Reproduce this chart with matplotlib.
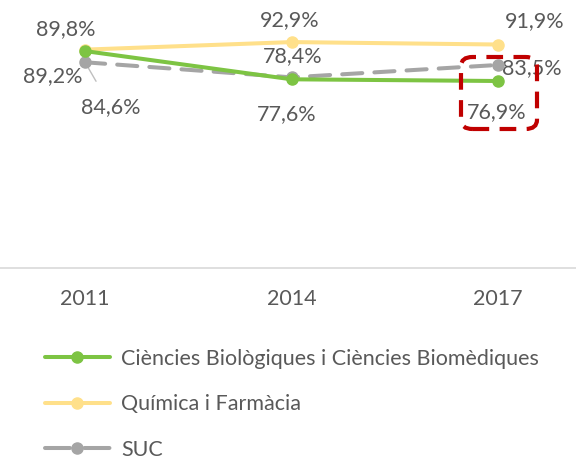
import matplotlib
matplotlib.use("Agg")
import matplotlib.pyplot as plt
from matplotlib.patches import FancyBboxPatch

years = ["2011", "2014", "2017"]
bio = [89.2, 77.6, 76.9]
quim = [89.8, 92.9, 91.9]
suc = [84.6, 78.4, 83.5]
names = ["Ciències Biològiques i Ciències Biomèdiques", "Química i Farmàcia", "SUC"]

plt.rcParams['font.family'] = ['Lato', 'DejaVu Sans']
txt = '#595959'
c_bio = '#7DC443'
c_quim = '#FFE08A'
c_suc = '#A5A5A5'
fs = 15.5

fig = plt.figure(figsize=(5.76, 4.59), dpi=100)
ax = fig.add_axes([0, 0.416, 1, 0.584])
x = list(range(len(years)))
lw = 2.9
ax.plot(x, quim, color=c_quim, lw=lw, marker='o', ms=8, label=names[1], zorder=3, solid_capstyle='round')
ax.plot(x, suc, color=c_suc, lw=lw, marker='o', ms=8, label=names[2], zorder=4, dashes=(5, 3), dash_capstyle='round')
ax.plot(x, bio, color=c_bio, lw=lw, marker='o', ms=8, label=names[0], zorder=5, solid_capstyle='round')

ax.set_xlim(-0.412, 2.378)
ax.set_ylim(0, 110.2)
for s in ['top', 'right', 'left']:
    ax.spines[s].set_visible(False)
ax.spines['bottom'].set_color('#D9D9D9')
ax.spines['bottom'].set_linewidth(1.2)
ax.set_yticks([])
ax.set_xticks(x)
ax.set_xticklabels(years, fontsize=fs, color=txt)
ax.tick_params(axis='x', length=0, pad=15)

def lab(v, xi, dx, dy, ha='center'):
    ax.annotate(f"{v:.1f}%".replace('.', ','), (xi, v), xytext=(dx, dy), textcoords='offset pixels',
                ha=ha, va='center', fontsize=fs, color=txt)

# 2011
lab(quim[0], 0, -19, 21)
lab(bio[0], 0, -32, -25)
ax.annotate(f"{suc[0]:.1f}%".replace('.', ','), (0, suc[0]), xytext=(26, -45), textcoords='offset pixels',
            ha='center', va='center', fontsize=fs, color=txt,
            arrowprops=dict(arrowstyle='-', color='#BFBFBF', lw=1, shrinkA=11, shrinkB=2))
# 2014
lab(quim[1], 1, -2, 22)
lab(suc[1], 1, 1, 21)
lab(bio[1], 1, -5, -35)
# 2017
lab(quim[2], 2, 37, 23)
lab(suc[2], 2, 34, -3)
lab(bio[2], 2, -1, -31)

# red dashed highlight box (pixel coords from top-left)
x0, x1, y0, y1 = 461, 537, 57, 129
box = FancyBboxPatch((x0 / 576, 1 - y1 / 459), (x1 - x0) / 576, (y1 - y0) / 459,
                     boxstyle="round,pad=0,rounding_size=0.02", transform=fig.transFigure,
                     fill=False, edgecolor='#C00000', lw=3, linestyle=(0, (4, 2.5)), zorder=10)
fig.add_artist(box)

h, l = ax.get_legend_handles_labels()
order = [2, 0, 1]
leg = fig.legend([h[i] for i in order], [l[i] for i in order], loc='upper left',
                 bbox_to_anchor=(0.078, 0.24), frameon=False, fontsize=fs,
                 handlelength=3.0, labelspacing=1.18, handletextpad=0.55, borderaxespad=0,
                 borderpad=0)
for t in leg.get_texts():
    t.set_color(txt)
leg.get_lines()[2].set_dashes((6.2, 3.6))

fig.savefig("out.png", dpi=100)
